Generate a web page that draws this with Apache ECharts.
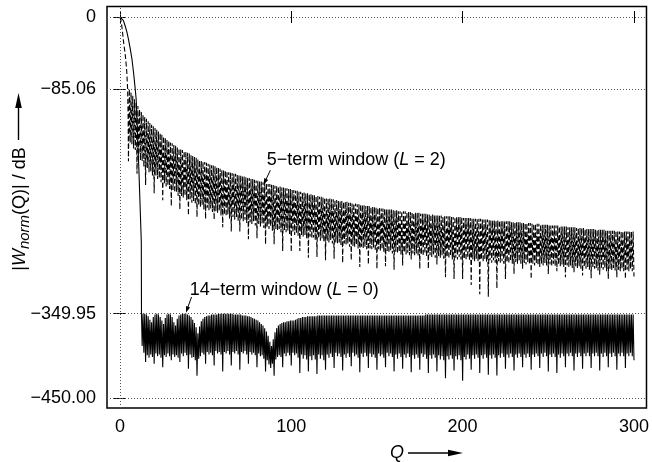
<!DOCTYPE html>
<html>
<head>
<meta charset="utf-8">
<script src="https://cdn.jsdelivr.net/npm/echarts@6/dist/echarts.min.js"></script>
<style>
  html, body { margin: 0; padding: 0; background: #fff; }
  #chart { width: 652px; height: 462px; }
</style>
</head>
<body>
<div id="chart"></div>
<script>
// ---- Spectrum data: Q in bins, level in dB ----

// Main lobes
const mainQ5  = [0, 0.5, 1, 1.5, 2, 2.5, 3, 3.5, 4, 4.5, 4.8, 5];
const mainDb5 = [0, -3, -9, -17, -27, -35, -42, -52, -64, -84, -115, -170];
const mainQ14  = [0, 1, 2, 3, 4, 5, 6, 7, 8, 8.5, 9, 9.5, 10, 11, 12, 12.5, 12.6];
const mainDb14 = [0, -1, -4, -10, -17, -26, -37, -49, -66, -76, -86, -97, -122, -175, -235, -265, -350];

// 5-term window (L = 2): sidelobe peaks at Q = 5.5, 6.5, ... 299.5
const firstPeakQ5 = 5.5;
const peaks5 = [
  -85,-89,-93,-97,-101,-105,-109,-112,-115,-118,
  -120,-123,-125,-127,-129,-131,-133,-135,-137,-139,
  -141,-143,-145,-146,-148,-149,-151,-152,-154,-155,
  -156,-157,-158,-159,-160,-161,-163,-164,-165,-166,
  -168,-169,-170,-171,-171,-172,-173,-174,-175,-175,
  -176,-177,-178,-179,-180,-181,-181,-182,-183,-183,
  -184,-185,-185,-186,-187,-187,-188,-188,-189,-190,
  -190,-191,-191,-192,-193,-193,-194,-194,-195,-195,
  -196,-197,-197,-198,-198,-199,-199,-200,-200,-201,
  -201,-202,-202,-203,-203,-204,-204,-205,-205,-206,
  -206,-207,-207,-208,-208,-209,-209,-210,-210,-211,
  -211,-212,-212,-213,-213,-214,-214,-214,-215,-215,
  -216,-216,-217,-217,-217,-218,-218,-218,-219,-219,
  -220,-220,-220,-221,-221,-221,-222,-222,-223,-223,
  -223,-224,-224,-224,-225,-225,-225,-226,-226,-226,
  -227,-227,-227,-227,-228,-228,-228,-229,-229,-229,
  -229,-229,-230,-230,-230,-230,-231,-231,-231,-231,
  -232,-232,-232,-232,-233,-233,-233,-233,-234,-234,
  -234,-234,-234,-235,-235,-235,-235,-235,-236,-236,
  -236,-236,-236,-236,-236,-237,-237,-237,-237,-237,
  -238,-238,-238,-238,-238,-238,-239,-239,-239,-239,
  -239,-240,-240,-240,-240,-240,-240,-241,-241,-241,
  -241,-241,-241,-242,-242,-242,-242,-242,-242,-243,
  -243,-243,-243,-243,-243,-244,-244,-244,-244,-244,
  -245,-245,-245,-245,-245,-246,-246,-246,-246,-246,
  -246,-247,-247,-247,-247,-247,-248,-248,-248,-248,
  -248,-249,-249,-249,-249,-249,-250,-250,-250,-250,
  -250,-250,-251,-251,-251,-251,-251,-251,-252,-252,
  -252,-252,-252,-252,-252,-253,-253,-253,-253,-253,
  -253,-253,-253,-253,-253
];
// 5-term window: sampled minima between sidelobes at Q = 6, 7, ... 300
const nulls5 = [
  -148,-150,-155,-157,-185,-163,-169,-170,-177,-198,
  -178,-183,-182,-187,-208,-187,-191,-190,-195,-216,
  -196,-200,-199,-203,-223,-204,-207,-206,-211,-227,
  -211,-213,-211,-216,-234,-215,-219,-217,-221,-236,
  -222,-224,-222,-227,-238,-225,-228,-226,-230,-239,
  -229,-231,-229,-234,-248,-233,-235,-233,-238,-253,
  -236,-239,-236,-241,-253,-239,-241,-239,-243,-262,
  -242,-244,-241,-246,-261,-244,-247,-244,-249,-268,
  -247,-250,-247,-252,-268,-250,-252,-250,-254,-276,
  -252,-254,-252,-256,-277,-254,-257,-255,-258,-276,
  -257,-259,-257,-261,-284,-259,-261,-260,-263,-283,
  -261,-264,-261,-265,-287,-264,-266,-263,-267,-285,
  -266,-267,-266,-269,-290,-267,-269,-267,-271,-287,
  -270,-271,-269,-273,-295,-271,-273,-271,-274,-292,
  -273,-274,-272,-276,-297,-274,-276,-274,-277,-294,
  -276,-278,-275,-279,-298,-277,-279,-277,-280,-293,
  -278,-280,-278,-281,-286,-279,-281,-279,-282,-297,
  -280,-282,-279,-283,-297,-281,-283,-280,-284,-292,
  -282,-284,-281,-285,-307,-283,-285,-282,-286,-309,
  -284,-286,-283,-286,-309,-285,-287,-284,-287,-316,
  -286,-288,-285,-288,-327,-286,-289,-286,-289,-330,
  -287,-290,-287,-290,-320,-288,-290,-288,-291,-309,
  -289,-291,-288,-291,-303,-289,-291,-288,-291,-297,
  -290,-292,-289,-292,-309,-291,-293,-290,-293,-295,
  -291,-293,-290,-293,-303,-292,-294,-291,-294,-300,
  -292,-294,-292,-295,-307,-293,-295,-293,-296,-301,
  -294,-296,-294,-297,-305,-295,-297,-295,-298,-308,
  -296,-297,-296,-299,-304,-297,-298,-296,-300,-309,
  -297,-299,-296,-299,-307,-298,-300,-297,-300,-309,
  -298,-300,-297,-300,-306
];

// 14-term window (L = 0): minima at Q = 13, 14, ... 300
const firstNullQ14 = 13;
const nulls14 = [
  -388,-396,-407,-399,-402,-398,-401,-409,-397,-400,
  -398,-402,-413,-399,-401,-397,-400,-405,-398,-401,
  -399,-402,-407,-397,-400,-396,-399,-415,-398,-402,
  -401,-405,-423,-403,-400,-396,-398,-409,-395,-398,
  -396,-399,-411,-394,-397,-395,-398,-418,-395,-397,
  -394,-398,-411,-395,-397,-394,-398,-416,-395,-397,
  -394,-398,-409,-395,-398,-396,-399,-413,-397,-400,
  -399,-403,-418,-405,-410,-414,-409,-423,-404,-401,
  -399,-401,-413,-397,-400,-396,-399,-411,-396,-399,
  -397,-402,-420,-398,-403,-399,-404,-418,-400,-405,
  -399,-404,-421,-398,-403,-399,-405,-416,-398,-402,
  -397,-401,-414,-396,-400,-397,-401,-417,-398,-402,
  -397,-401,-412,-396,-400,-398,-402,-419,-397,-401,
  -396,-400,-414,-397,-401,-398,-402,-416,-397,-400,
  -398,-402,-413,-396,-400,-397,-401,-418,-398,-403,
  -397,-401,-415,-398,-402,-397,-401,-419,-399,-403,
  -398,-402,-416,-397,-401,-398,-403,-420,-399,-403,
  -398,-402,-418,-399,-404,-400,-405,-426,-400,-404,
  -399,-403,-417,-400,-404,-399,-405,-429,-401,-404,
  -398,-403,-416,-399,-403,-398,-402,-420,-399,-403,
  -398,-402,-422,-399,-403,-398,-402,-423,-399,-402,
  -397,-401,-415,-398,-402,-397,-401,-417,-398,-402,
  -397,-401,-413,-398,-402,-397,-401,-416,-398,-401,
  -397,-400,-414,-397,-401,-396,-400,-418,-398,-401,
  -397,-401,-420,-398,-402,-397,-400,-413,-397,-400,
  -396,-400,-417,-397,-401,-396,-400,-415,-397,-400,
  -396,-400,-414,-397,-400,-396,-400,-417,-397,-401,
  -396,-400,-413,-397,-401,-396,-400,-416,-397,-400,
  -396,-400,-414,-397,-400,-396,-400,-405
];
// 14-term window: sidelobe peaks at Q = 13.5, 14.5, ... 299.5
const peaks14 = [
  -350,-350,-351,-353,-357,-360,-354,-351,-350,-351,
  -354,-358,-362,-355,-351,-350,-351,-354,-360,-364,
  -356,-352,-351,-350,-350,-350,-351,-352,-354,-357,
  -361,-366,-373,-365,-359,-356,-354,-353,-352,-352,
  -351,-351,-351,-351,-350,-350,-350,-350,-350,-350,
  -350,-350,-350,-351,-351,-351,-351,-351,-352,-352,
  -352,-353,-353,-354,-355,-356,-357,-358,-360,-362,
  -364,-367,-371,-376,-383,-388,-380,-372,-367,-364,
  -362,-361,-360,-360,-359,-359,-358,-358,-358,-357,
  -356,-355,-355,-354,-354,-354,-353,-353,-353,-353,
  -353,-353,-352,-352,-352,-352,-352,-352,-352,-352,
  -352,-352,-352,-352,-352,-352,-352,-352,-352,-352,
  -352,-352,-352,-352,-352,-352,-352,-352,-352,-352,
  -352,-352,-352,-352,-352,-352,-352,-352,-352,-352,
  -352,-352,-352,-352,-352,-352,-352,-352,-352,-352,
  -352,-352,-352,-352,-352,-352,-352,-352,-352,-352,
  -352,-352,-352,-352,-352,-351,-351,-351,-351,-351,
  -351,-351,-351,-351,-351,-351,-351,-351,-351,-351,
  -351,-351,-351,-351,-351,-351,-351,-351,-351,-351,
  -351,-351,-351,-351,-351,-351,-351,-351,-351,-351,
  -351,-351,-351,-351,-351,-351,-351,-351,-351,-351,
  -351,-351,-351,-351,-351,-351,-351,-351,-351,-351,
  -351,-351,-351,-351,-351,-351,-351,-351,-351,-351,
  -351,-351,-351,-351,-351,-351,-351,-351,-351,-351,
  -351,-351,-351,-351,-351,-351,-351,-351,-351,-351,
  -351,-351,-351,-351,-351,-351,-351,-351,-351,-351,
  -351,-351,-351,-351,-351,-351,-351,-351,-351,-351,
  -351,-351,-351,-351,-351,-351,-351,-351,-351,-351,
  -351,-351,-351,-351,-351,-351,-351
];

// Axis ticks
const xTicks = [0, 100, 200, 300];
const yTicks = [0, -85.06, -349.95, -450];
const yTickLabels = ['0', '\u221285.06', '\u2212349.95', '\u2212450.00'];

// ---- Build line data (alternating peak / minimum) ----
function build5() {
  const pts = mainQ5.map((q, i) => [q, mainDb5[i]]);
  for (let i = 0; i < peaks5.length; i++) {
    pts.push([firstPeakQ5 + i, peaks5[i]]);
    pts.push([firstPeakQ5 + i + 0.5, nulls5[i]]);
  }
  return pts;
}
function build14() {
  const pts = mainQ14.map((q, i) => [q, mainDb14[i]]);
  for (let i = 0; i < nulls14.length; i++) {
    pts.push([firstNullQ14 + i, nulls14[i]]);
    if (i < peaks14.length) pts.push([firstNullQ14 + i + 0.5, peaks14[i]]);
  }
  return pts;
}

const FONT = '"Liberation Sans", Arial, Helvetica, sans-serif';
const FS = 18;
const X_MIN = -7.52, X_MAX = 307.3;
const Y_MIN = -461.2, Y_MAX = 12.4;

const tick = { inside: true, length: 6, lineStyle: { color: '#000', width: 1 } };
const label = { color: '#000', fontSize: FS, fontFamily: FONT };

const chart = echarts.init(document.getElementById('chart'), null, { renderer: 'canvas' });

const option = {
  animation: false,
  backgroundColor: '#fff',
  grid: {
    left: 107, right: 1, top: 6.5, bottom: 54,
    show: true, borderColor: '#000', borderWidth: 1.5, backgroundColor: 'transparent'
  },
  xAxis: [
    {
      type: 'value', min: X_MIN, max: X_MAX, position: 'bottom',
      axisLine: { show: false }, splitLine: { show: false },
      axisTick: Object.assign({ customValues: xTicks }, tick),
      axisLabel: Object.assign({ margin: 10, customValues: xTicks }, label)
    },
    {
      type: 'value', min: X_MIN, max: X_MAX, position: 'top',
      axisLine: { show: false }, splitLine: { show: false },
      axisTick: Object.assign({ customValues: xTicks }, tick),
      axisLabel: { show: false }
    }
  ],
  yAxis: [
    {
      type: 'value', min: Y_MIN, max: Y_MAX, position: 'left',
      axisLine: { show: false }, splitLine: { show: false },
      axisTick: Object.assign({ customValues: yTicks }, tick),
      axisLabel: Object.assign({
        margin: 11, customValues: yTicks,
        formatter: v => {
          const i = yTicks.findIndex(t => Math.abs(t - v) < 1e-6);
          return i >= 0 ? yTickLabels[i] : '';
        }
      }, label)
    },
    {
      type: 'value', min: Y_MIN, max: Y_MAX, position: 'right',
      axisLine: { show: false }, splitLine: { show: false },
      axisTick: Object.assign({ customValues: yTicks }, tick),
      axisLabel: { show: false }
    }
  ],
  series: [
    {
      name: '5-term window (L = 2)',
      type: 'line',
      xAxisIndex: 0, yAxisIndex: 0,
      data: build5(),
      symbol: 'none', showSymbol: false, silent: true,
      lineStyle: { color: '#000', width: 1.1, type: [5, 2.5] },
      z: 3,
      markLine: {
        silent: true,
        symbol: ['none', 'none'],
        label: { show: false },
        lineStyle: { color: '#555', width: 1, type: [1, 2] },
        data: yTicks.map(v => ({ yAxis: v })).concat([{ xAxis: 0 }])
      }
    },
    {
      name: '14-term window (L = 0)',
      type: 'line',
      xAxisIndex: 0, yAxisIndex: 0,
      data: build14(),
      symbol: 'none', showSymbol: false, silent: true,
      lineStyle: { color: '#000', width: 1.1 },
      z: 4
    }
  ]
};

chart.setOption(option);

// ---- Annotations and axis titles ----
const toPx = (q, db) => chart.convertToPixel({ xAxisIndex: 0, yAxisIndex: 0 }, [q, db]);

function arrow(a, b, headLen, headHalf, width) {
  const dx = b[0] - a[0], dy = b[1] - a[1];
  const L = Math.hypot(dx, dy), ux = dx / L, uy = dy / L;
  const base = [b[0] - ux * headLen, b[1] - uy * headLen];
  return [
    { type: 'line', silent: true,
      shape: { x1: a[0], y1: a[1], x2: base[0] + ux * 1, y2: base[1] + uy * 1 },
      style: { stroke: '#000', lineWidth: width } },
    { type: 'polygon', silent: true,
      shape: { points: [b, [base[0] - uy * headHalf, base[1] + ux * headHalf], [base[0] + uy * headHalf, base[1] - ux * headHalf]] },
      style: { fill: '#000' } }
  ];
}

const italic = { fontStyle: 'italic', fontSize: FS, fontFamily: FONT, fill: '#000' };

const lab5 = toPx(85.7, -168.9);
const lab14 = toPx(40.7, -321.8);

const graphics = [
  {
    type: 'text', silent: true, x: lab5[0], y: lab5[1],
    style: {
      text: '5\u2212term window ({i|L} = 2)',
      fontSize: FS, fontFamily: FONT, fill: '#000',
      align: 'left', verticalAlign: 'middle',
      rich: { i: italic }
    }
  },
  {
    type: 'text', silent: true, x: lab14[0], y: lab14[1],
    style: {
      text: '14\u2212term window ({i|L} = 0)',
      fontSize: FS, fontFamily: FONT, fill: '#000',
      align: 'left', verticalAlign: 'middle',
      rich: { i: italic }
    }
  },
  // y-axis title, read bottom to top
  {
    type: 'text', silent: true, x: 20, y: 209, rotation: Math.PI / 2,
    style: {
      text: '{a||}{w|W}{s|norm}{a|(Q)| / dB}',
      fill: '#000', align: 'center', verticalAlign: 'middle',
      rich: {
        a: { fontSize: FS, fontFamily: FONT, fill: '#000', lineHeight: 24, verticalAlign: 'middle' },
        w: { fontSize: FS, fontFamily: FONT, fill: '#000', fontStyle: 'italic', lineHeight: 24, verticalAlign: 'middle' },
        s: { fontSize: 15, fontFamily: FONT, fill: '#000', fontStyle: 'italic', lineHeight: 15, verticalAlign: 'bottom' }
      }
    }
  },
  // x-axis title
  {
    type: 'text', silent: true, x: 397, y: 453,
    style: {
      text: 'Q', fontSize: FS, fontFamily: FONT, fontStyle: 'italic', fill: '#000',
      align: 'center', verticalAlign: 'middle'
    }
  }
];

graphics.push(...arrow(toPx(87.8, -180.7), toPx(83.9, -197.5), 6, 2.2, 1));
graphics.push(...arrow(toPx(41.8, -330.3), toPx(38.6, -348.5), 6, 2.2, 1));
graphics.push(...arrow([18.5, 140], [18.5, 93], 15, 3.3, 1.4));
graphics.push(...arrow([408, 453], [463, 453], 15, 3.3, 1.4));

chart.setOption({ graphic: { elements: graphics } });
</script>
</body>
</html>
